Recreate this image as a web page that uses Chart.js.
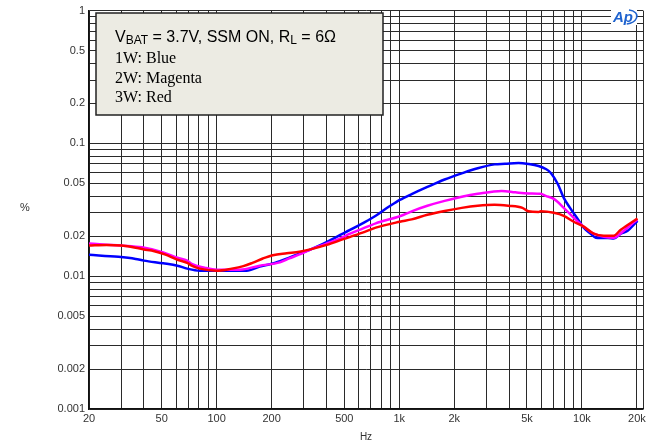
<!DOCTYPE html>
<html>
<head>
  <title>THD+N vs Frequency</title>
  <style>
    body {
      margin: 0;
      padding: 0;
      background-color: #fff;
    }

    #wrap {
      width: 665px;
      height: 443px;
    }
  </style>
</head>
<body>

<div id="wrap">
  <canvas id="myChart" width="665" height="443"></canvas>
</div>

<script src="https://cdn.jsdelivr.net/npm/chart.js"></script>
<script>
  // Curves (Hz, %)
  const blueHz  = [20, 29, 36, 40, 51, 61, 69, 81, 100, 120, 146, 172, 200, 222, 250, 284, 330, 382, 430, 475, 534, 629, 743, 850, 957, 1006, 1169, 1425, 1771, 2198, 2687, 3321, 3791, 4494, 5100, 5790, 6340, 6757, 7378, 7955, 8681, 9480, 10230, 11170, 11910, 12700, 13870, 14940, 16330, 17810, 19660, 20150];
  const bluePct = [0.0145, 0.0140, 0.0135, 0.0131, 0.0125, 0.0120, 0.0114, 0.0110, 0.0110, 0.0110, 0.0110, 0.0118, 0.0124, 0.0130, 0.0138, 0.0148, 0.0160, 0.0175, 0.0190, 0.0205, 0.0222, 0.0250, 0.0285, 0.0325, 0.0360, 0.0375, 0.0415, 0.0470, 0.0535, 0.0595, 0.0650, 0.0695, 0.0702, 0.0712, 0.0700, 0.0676, 0.0642, 0.0599, 0.0495, 0.0389, 0.0321, 0.0270, 0.0232, 0.0209, 0.0195, 0.0194, 0.0194, 0.0192, 0.0209, 0.0220, 0.0252, 0.0261];

  const magentaHz  = [20, 30, 39, 51, 61, 69, 73, 86, 100, 134, 172, 222, 250, 284, 330, 400, 475, 534, 629, 743, 1006, 1169, 1425, 1771, 2198, 2687, 3636, 4325, 5100, 5944, 6340, 7020, 7955, 9020, 10230, 11600, 13200, 14940, 16960, 19660, 20150];
  const magentaPct = [0.0176, 0.0170, 0.0165, 0.0151, 0.0138, 0.0131, 0.0124, 0.0116, 0.0112, 0.0112, 0.0120, 0.0127, 0.0136, 0.0146, 0.0160, 0.0176, 0.0193, 0.0208, 0.0228, 0.0250, 0.0283, 0.0308, 0.0339, 0.0369, 0.0396, 0.0417, 0.0439, 0.0428, 0.0420, 0.0417, 0.0403, 0.0382, 0.0327, 0.0275, 0.0236, 0.0209, 0.0198, 0.0195, 0.0220, 0.0261, 0.0266];

  const redHz  = [20, 25, 30, 36, 40, 44, 52, 61, 69, 73, 81, 100, 121, 140, 157, 179, 203, 242, 284, 330, 400, 494, 629, 743, 1006, 1169, 1425, 1771, 2198, 2687, 3321, 3953, 4725, 5100, 5790, 5944, 7020, 7955, 9020, 10230, 11600, 13200, 14940, 16330, 19660, 20150];
  const redPct = [0.0170, 0.0172, 0.0170, 0.0164, 0.0159, 0.0156, 0.0146, 0.0133, 0.0126, 0.0120, 0.0114, 0.0110, 0.0114, 0.0119, 0.0126, 0.0136, 0.0144, 0.0149, 0.0153, 0.0160, 0.0172, 0.0190, 0.0213, 0.0232, 0.0257, 0.0268, 0.0290, 0.0310, 0.0327, 0.0339, 0.0345, 0.0339, 0.0327, 0.0308, 0.0305, 0.0308, 0.0300, 0.0285, 0.0257, 0.0236, 0.0209, 0.0202, 0.0202, 0.0224, 0.0266, 0.0272];

  // Axis ticks
  const xTickValues = [20, 50, 100, 200, 500, 1000, 2000, 5000, 10000, 20000];
  const xTickText   = ['20', '50', '100', '200', '500', '1k', '2k', '5k', '10k', '20k'];
  const yTickValues = [1, 0.5, 0.2, 0.1, 0.05, 0.02, 0.01, 0.005, 0.002, 0.001];
  const yTickText   = ['1', '0.5', '0.2', '0.1', '0.05', '0.02', '0.01', '0.005', '0.002', '0.001'];

  const xMin = 20, xMax = 21600;
  const yMin = 0.001, yMax = 1;

  // grid lines at 1..9 of every decade
  const xGrid = [];
  [10, 100, 1000, 10000].forEach(d => {
    for (let m = 1; m <= 9; m++) {
      const v = m * d;
      if (v >= xMin && v <= 20000) xGrid.push(v);
    }
  });
  xGrid.push(xMax);

  const yGrid = [];
  [0.001, 0.01, 0.1].forEach(d => {
    for (let m = 1; m <= 9; m++) yGrid.push(m * d);
  });
  yGrid.push(1);

  function labelFor(v, values, text) {
    for (let i = 0; i < values.length; i++) {
      if (Math.abs(v - values[i]) / values[i] < 1e-6) return text[i];
    }
    return '';
  }

  function toPoints(xs, ys) {
    return xs.map((x, i) => ({ x: x, y: ys[i] }));
  }

  // legend box, "%" label and the AP logo
  const extras = {
    id: 'extras',
    afterDraw(chart) {
      const ctx = chart.ctx;
      ctx.save();

      // box
      ctx.fillStyle = '#ecebe3';
      ctx.fillRect(96, 13, 287, 102);
      ctx.strokeStyle = '#222';
      ctx.lineWidth = 1.5;
      ctx.strokeRect(96, 13, 287, 102);

      // first line with subscripts
      ctx.fillStyle = '#000';
      ctx.textBaseline = 'alphabetic';
      let x = 115;
      const base = 42;
      const big = '16px "Liberation Sans", Arial, sans-serif';
      const small = '12px "Liberation Sans", Arial, sans-serif';
      const parts = [['V', big, 0], ['BAT', small, 2], [' = 3.7V, SSM ON, R', big, 0], ['L', small, 2], [' = 6\u03A9', big, 0]];
      parts.forEach(p => {
        ctx.font = p[1];
        ctx.fillText(p[0], x, base + p[2]);
        x += ctx.measureText(p[0]).width;
      });

      ctx.font = '16px "Liberation Serif", "Times New Roman", serif';
      ctx.fillText('1W: Blue', 115, 63);
      ctx.fillText('2W: Magenta', 115, 82.5);
      ctx.fillText('3W: Red', 115, 102);

      // y unit
      ctx.font = '11px "Liberation Sans", Arial, sans-serif';
      ctx.fillStyle = '#333';
      ctx.textAlign = 'center';
      ctx.textBaseline = 'middle';
      ctx.fillText('%', 25, 208);

      // AP logo
      ctx.fillStyle = '#fff';
      ctx.fillRect(611, 10, 26, 15);
      ctx.fillStyle = '#1f63cf';
      ctx.font = 'italic bold 15px "Liberation Sans", Arial, sans-serif';
      ctx.textAlign = 'left';
      ctx.textBaseline = 'alphabetic';
      ctx.fillText('Ap', 613, 22);
      ctx.strokeStyle = '#1f63cf';
      ctx.lineWidth = 1.5;
      ctx.beginPath();
      ctx.ellipse(626, 17, 11, 7, -0.15, -1.2, 1.6);
      ctx.stroke();

      ctx.restore();
    }
  };

  const ctx = document.getElementById('myChart').getContext('2d');
  const myChart = new Chart(ctx, {
    type: 'line',
    data: {
      datasets: [
        {
          label: '1W',
          data: toPoints(blueHz, bluePct),
          borderColor: '#0000ff',
          order: 3
        },
        {
          label: '2W',
          data: toPoints(magentaHz, magentaPct),
          borderColor: '#ff00ff',
          order: 2
        },
        {
          label: '3W',
          data: toPoints(redHz, redPct),
          borderColor: '#ff0000',
          order: 1
        }
      ]
    },
    options: {
      responsive: false,
      animation: false,
      layout: {
        padding: { top: 8, right: 22, left: 0, bottom: 0 }
      },
      elements: {
        point: { radius: 0 },
        line: { borderWidth: 2.5, cubicInterpolationMode: 'monotone', fill: false }
      },
      plugins: {
        legend: { display: false },
        tooltip: { enabled: false }
      },
      scales: {
        x: {
          type: 'logarithmic',
          min: xMin,
          max: xMax,
          afterBuildTicks: scale => { scale.ticks = xGrid.map(v => ({ value: v })); },
          afterFit: scale => { scale.height = 34; },
          grid: { color: '#2a2a2a', lineWidth: 1, drawTicks: false },
          border: { color: '#111', width: 1.5 },
          ticks: {
            autoSkip: false,
            maxRotation: 0,
            padding: 3,
            color: '#333',
            font: { family: '"Liberation Sans", Arial, sans-serif', size: 11 },
            callback: v => labelFor(v, xTickValues, xTickText)
          },
          title: {
            display: true,
            text: 'Hz',
            color: '#333',
            padding: 0,
            font: { family: '"Liberation Sans", Arial, sans-serif', size: 10 }
          }
        },
        y: {
          type: 'logarithmic',
          min: yMin,
          max: yMax,
          afterBuildTicks: scale => { scale.ticks = yGrid.map(v => ({ value: v })); },
          afterFit: scale => { scale.width = 89; },
          grid: { color: '#2a2a2a', lineWidth: 1, drawTicks: false },
          border: { color: '#111', width: 1.5 },
          ticks: {
            autoSkip: false,
            padding: 4,
            color: '#333',
            font: { family: '"Liberation Sans", Arial, sans-serif', size: 11 },
            callback: v => labelFor(v, yTickValues, yTickText)
          }
        }
      }
    },
    plugins: [extras]
  });
</script>
</body>
</html>
